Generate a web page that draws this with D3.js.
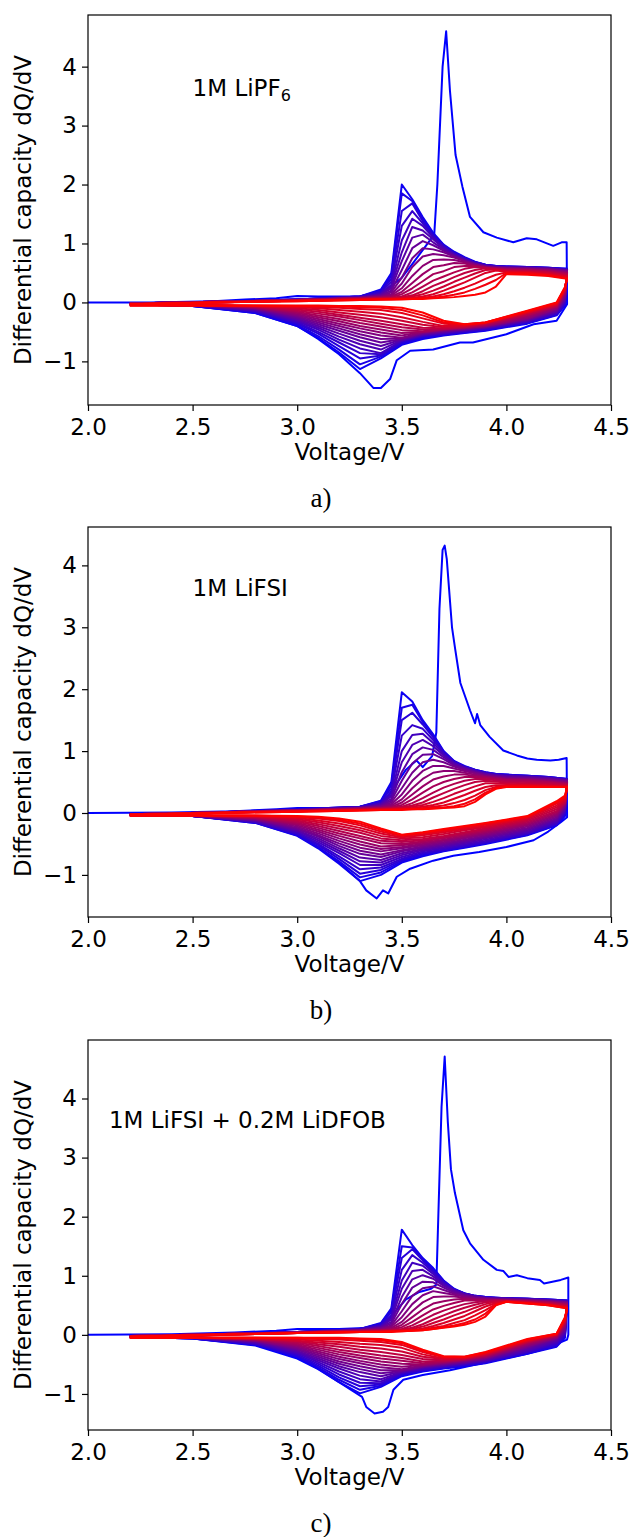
<!DOCTYPE html>
<html>
<head>
<meta charset="utf-8">
<script src="https://cdn.jsdelivr.net/npm/d3@7/dist/d3.min.js"></script>
<style>
	body { margin: 0; background: #fff; }
	svg text { font-family: "DejaVu Sans", sans-serif; fill: #000; }
	svg text.caption { font-family: "Liberation Serif", "DejaVu Serif", serif; }
</style>
</head>
<body>
<script>
// shared voltage grids (V) for the later cycles
var chargeVolts = [2.2, 2.6, 3.0, 3.3, 3.4, 3.45, 3.5, 3.55, 3.6, 3.65, 3.7, 3.75, 3.8, 3.85, 3.9, 3.95, 4.0, 4.1, 4.2, 4.29];
var dischargeVolts = [4.28, 4.24, 4.1, 3.9, 3.8, 3.7, 3.6, 3.5, 3.4, 3.3, 3.2, 3.1, 3.0, 2.8, 2.5, 2.2];

var xTickValues = [2.0, 2.5, 3.0, 3.5, 4.0, 4.5];
var yTickValues = [-1, 0, 1, 2, 3, 4];

// ---- a) 1M LiPF6 ----
var firstChargeA = [[2.0,0],[2.3,0.0],[2.6,0.02],[2.75,0.05],[2.9,0.07],[3.0,0.11],[3.1,0.1],[3.3,0.1],[3.4,0.15],[3.45,0.28],[3.5,0.42],[3.55,0.65],[3.655,1.15],[3.67,2.0],[3.695,4.0],[3.712,4.6],[3.73,3.6],[3.757,2.5],[3.79,1.96],[3.826,1.45],[3.89,1.19],[3.954,1.1],[4.033,1.02],[4.097,1.09],[4.145,1.07],[4.224,0.96],[4.264,1.02],[4.288,1.02]];
var firstDischargeA = [[4.29,-0.03],[4.24,-0.31],[4.13,-0.37],[4.0,-0.54],[3.84,-0.68],[3.778,-0.68],[3.65,-0.8],[3.54,-0.82],[3.476,-0.98],[3.444,-1.3],[3.4,-1.45],[3.364,-1.45],[3.3,-1.2],[3.2,-0.88],[3.1,-0.62],[3.0,-0.4],[2.8,-0.18],[2.5,-0.06],[2.2,-0.03]];
var chargeA = [
	[-0.02,0.01,0.05,0.1,0.22,0.5,2.0,1.75,1.45,1.18,0.98,0.86,0.77,0.69,0.64,0.62,0.61,0.6,0.59,0.57],
	[-0.02,0.01,0.05,0.1,0.2,0.45,1.85,1.72,1.42,1.16,0.97,0.85,0.76,0.68,0.64,0.62,0.61,0.6,0.59,0.57],
	[-0.02,0.01,0.05,0.1,0.19,0.4,1.55,1.68,1.38,1.14,0.96,0.84,0.75,0.68,0.64,0.62,0.61,0.6,0.59,0.56],
	[-0.02,0.01,0.05,0.1,0.17,0.35,1.3,1.55,1.34,1.12,0.95,0.83,0.75,0.67,0.63,0.61,0.6,0.6,0.58,0.56],
	[-0.02,0.01,0.05,0.09,0.15,0.3,1.05,1.42,1.3,1.1,0.93,0.82,0.74,0.67,0.63,0.61,0.6,0.59,0.58,0.55],
	[-0.02,0.01,0.05,0.09,0.14,0.27,0.85,1.28,1.22,1.07,0.92,0.81,0.73,0.66,0.62,0.6,0.6,0.59,0.58,0.55],
	[-0.02,0.01,0.04,0.08,0.13,0.24,0.7,1.1,1.15,1.02,0.9,0.8,0.72,0.66,0.62,0.6,0.59,0.58,0.57,0.54],
	[-0.02,0.01,0.04,0.08,0.12,0.2,0.55,0.92,1.04,0.97,0.88,0.79,0.71,0.65,0.61,0.6,0.59,0.58,0.57,0.54],
	[-0.02,0.01,0.04,0.08,0.11,0.17,0.42,0.75,0.92,0.9,0.85,0.78,0.7,0.65,0.61,0.59,0.58,0.57,0.56,0.53],
	[-0.02,0.01,0.04,0.08,0.1,0.14,0.32,0.6,0.78,0.82,0.8,0.76,0.7,0.64,0.6,0.59,0.58,0.57,0.56,0.52],
	[-0.02,0.01,0.04,0.07,0.09,0.12,0.24,0.45,0.62,0.72,0.73,0.72,0.68,0.63,0.6,0.58,0.57,0.56,0.55,0.51],
	[-0.02,0.01,0.04,0.07,0.09,0.1,0.18,0.33,0.48,0.6,0.63,0.67,0.66,0.62,0.59,0.58,0.57,0.56,0.54,0.5],
	[-0.02,0.01,0.04,0.07,0.08,0.09,0.14,0.24,0.36,0.48,0.53,0.6,0.62,0.62,0.59,0.57,0.56,0.55,0.53,0.49],
	[-0.03,0.0,0.03,0.06,0.07,0.08,0.1,0.17,0.27,0.37,0.44,0.51,0.57,0.6,0.59,0.57,0.55,0.54,0.52,0.48],
	[-0.03,0.0,0.03,0.06,0.07,0.07,0.09,0.12,0.19,0.28,0.35,0.43,0.5,0.55,0.58,0.56,0.54,0.53,0.51,0.46],
	[-0.03,0.0,0.03,0.05,0.06,0.07,0.08,0.1,0.14,0.2,0.27,0.35,0.42,0.49,0.55,0.56,0.53,0.52,0.5,0.45],
	[-0.03,0.0,0.03,0.05,0.06,0.06,0.07,0.08,0.1,0.14,0.2,0.27,0.34,0.42,0.5,0.54,0.52,0.51,0.48,0.44],
	[-0.03,0.0,0.03,0.05,0.05,0.06,0.06,0.07,0.08,0.1,0.14,0.19,0.25,0.32,0.4,0.47,0.51,0.5,0.47,0.42],
	[-0.03,0.0,0.02,0.04,0.05,0.05,0.06,0.06,0.07,0.08,0.1,0.13,0.17,0.23,0.3,0.38,0.5,0.49,0.46,0.41],
	[-0.03,0.0,0.02,0.04,0.05,0.05,0.05,0.06,0.06,0.07,0.08,0.09,0.11,0.13,0.17,0.27,0.48,0.47,0.45,0.4]
];
var dischargeA = [
	[-0.05,-0.22,-0.36,-0.48,-0.52,-0.56,-0.62,-0.72,-0.95,-1.13,-0.85,-0.6,-0.4,-0.18,-0.06,-0.03],
	[-0.04,-0.21,-0.35,-0.47,-0.51,-0.55,-0.6,-0.7,-0.92,-1.05,-0.8,-0.57,-0.38,-0.17,-0.06,-0.03],
	[-0.03,-0.2,-0.34,-0.46,-0.5,-0.54,-0.58,-0.68,-0.9,-0.95,-0.74,-0.53,-0.36,-0.16,-0.06,-0.03],
	[0.0,-0.19,-0.33,-0.45,-0.49,-0.53,-0.57,-0.66,-0.88,-0.86,-0.68,-0.5,-0.34,-0.15,-0.05,-0.03],
	[0.02,-0.18,-0.32,-0.44,-0.48,-0.52,-0.56,-0.65,-0.86,-0.78,-0.63,-0.46,-0.32,-0.14,-0.05,-0.03],
	[0.04,-0.16,-0.31,-0.43,-0.47,-0.51,-0.55,-0.64,-0.8,-0.71,-0.58,-0.43,-0.3,-0.13,-0.05,-0.03],
	[0.06,-0.15,-0.3,-0.42,-0.46,-0.5,-0.54,-0.63,-0.74,-0.65,-0.53,-0.4,-0.28,-0.12,-0.05,-0.03],
	[0.08,-0.14,-0.29,-0.42,-0.46,-0.49,-0.53,-0.62,-0.68,-0.59,-0.48,-0.37,-0.26,-0.11,-0.05,-0.03],
	[0.1,-0.12,-0.28,-0.41,-0.45,-0.48,-0.52,-0.61,-0.62,-0.54,-0.44,-0.34,-0.24,-0.1,-0.04,-0.03],
	[0.12,-0.11,-0.27,-0.4,-0.44,-0.47,-0.51,-0.6,-0.56,-0.49,-0.4,-0.31,-0.22,-0.1,-0.04,-0.03],
	[0.14,-0.1,-0.26,-0.4,-0.44,-0.46,-0.5,-0.56,-0.51,-0.44,-0.36,-0.28,-0.2,-0.09,-0.04,-0.03],
	[0.16,-0.08,-0.24,-0.39,-0.43,-0.46,-0.5,-0.52,-0.46,-0.4,-0.32,-0.25,-0.18,-0.08,-0.04,-0.03],
	[0.18,-0.07,-0.22,-0.38,-0.42,-0.45,-0.49,-0.47,-0.41,-0.35,-0.28,-0.22,-0.16,-0.08,-0.04,-0.03],
	[0.19,-0.06,-0.21,-0.37,-0.42,-0.45,-0.46,-0.42,-0.36,-0.3,-0.24,-0.19,-0.14,-0.07,-0.04,-0.04],
	[0.21,-0.05,-0.19,-0.36,-0.41,-0.44,-0.43,-0.37,-0.31,-0.26,-0.21,-0.16,-0.12,-0.07,-0.04,-0.04],
	[0.22,-0.04,-0.18,-0.35,-0.4,-0.42,-0.38,-0.31,-0.25,-0.21,-0.17,-0.13,-0.1,-0.06,-0.04,-0.04],
	[0.23,-0.03,-0.17,-0.35,-0.39,-0.4,-0.33,-0.25,-0.19,-0.16,-0.13,-0.1,-0.08,-0.06,-0.05,-0.04],
	[0.24,-0.02,-0.16,-0.34,-0.38,-0.36,-0.27,-0.18,-0.13,-0.11,-0.09,-0.08,-0.07,-0.06,-0.05,-0.05],
	[0.25,-0.01,-0.15,-0.34,-0.37,-0.34,-0.22,-0.13,-0.09,-0.08,-0.07,-0.06,-0.06,-0.05,-0.05,-0.05],
	[0.26,0.0,-0.14,-0.34,-0.37,-0.31,-0.17,-0.09,-0.07,-0.06,-0.06,-0.05,-0.05,-0.05,-0.05,-0.05]
];

// ---- b) 1M LiFSI ----
var firstChargeB = [[2.0,0],[2.4,0.01],[2.7,0.03],[2.9,0.06],[3.0,0.08],[3.2,0.08],[3.35,0.1],[3.42,0.2],[3.47,0.45],[3.52,0.7],[3.57,0.85],[3.6,0.74],[3.645,0.92],[3.665,1.3],[3.68,3.3],[3.695,4.25],[3.705,4.32],[3.715,4.1],[3.74,3.0],[3.755,2.65],[3.78,2.1],[3.826,1.66],[3.85,1.45],[3.86,1.6],[3.875,1.42],[3.92,1.23],[3.985,1.01],[4.05,0.93],[4.1,0.88],[4.145,0.86],[4.21,0.85],[4.25,0.86],[4.288,0.89]];
var firstDischargeB = [[4.29,-0.07],[4.26,-0.15],[4.2,-0.3],[4.13,-0.44],[4.0,-0.55],[3.87,-0.63],[3.746,-0.69],[3.65,-0.77],[3.54,-0.9],[3.476,-1.03],[3.435,-1.3],[3.41,-1.25],[3.38,-1.38],[3.33,-1.25],[3.3,-1.1],[3.2,-0.8],[3.1,-0.55],[3.0,-0.35],[2.8,-0.15],[2.5,-0.05],[2.2,-0.03]];
var chargeB = [
	[-0.02,0.01,0.06,0.1,0.2,0.5,1.95,1.8,1.5,1.27,1.0,0.84,0.76,0.7,0.66,0.63,0.62,0.6,0.58,0.55],
	[-0.02,0.01,0.06,0.1,0.19,0.45,1.7,1.75,1.47,1.25,0.99,0.83,0.75,0.7,0.66,0.63,0.62,0.6,0.58,0.55],
	[-0.02,0.01,0.06,0.1,0.18,0.4,1.5,1.62,1.43,1.22,0.98,0.83,0.75,0.69,0.65,0.63,0.61,0.6,0.58,0.55],
	[-0.02,0.01,0.05,0.1,0.16,0.35,1.25,1.42,1.36,1.18,0.97,0.82,0.74,0.69,0.65,0.62,0.61,0.59,0.57,0.54],
	[-0.02,0.01,0.05,0.09,0.15,0.3,1.0,1.26,1.28,1.13,0.95,0.81,0.74,0.68,0.64,0.62,0.6,0.59,0.57,0.54],
	[-0.02,0.01,0.05,0.09,0.14,0.27,0.82,1.1,1.18,1.08,0.93,0.8,0.73,0.68,0.64,0.61,0.6,0.58,0.56,0.53],
	[-0.02,0.01,0.05,0.08,0.13,0.23,0.66,0.95,1.06,1.02,0.9,0.79,0.72,0.67,0.63,0.6,0.59,0.58,0.56,0.53],
	[-0.02,0.01,0.05,0.08,0.12,0.2,0.52,0.8,0.94,0.95,0.87,0.77,0.71,0.66,0.62,0.6,0.58,0.57,0.55,0.52],
	[-0.02,0.01,0.04,0.08,0.11,0.17,0.4,0.65,0.82,0.86,0.82,0.75,0.7,0.65,0.61,0.59,0.57,0.56,0.54,0.51],
	[-0.02,0.01,0.04,0.08,0.1,0.14,0.3,0.52,0.68,0.76,0.76,0.72,0.68,0.64,0.6,0.58,0.56,0.55,0.53,0.5],
	[-0.02,0.01,0.04,0.07,0.09,0.12,0.22,0.4,0.55,0.65,0.68,0.68,0.65,0.62,0.59,0.57,0.55,0.54,0.52,0.49],
	[-0.02,0.01,0.04,0.07,0.08,0.1,0.17,0.3,0.43,0.54,0.59,0.62,0.62,0.6,0.58,0.56,0.54,0.53,0.51,0.48],
	[-0.02,0.01,0.04,0.07,0.08,0.09,0.13,0.22,0.33,0.43,0.5,0.55,0.58,0.58,0.57,0.55,0.53,0.52,0.5,0.47],
	[-0.03,0.0,0.03,0.06,0.07,0.08,0.1,0.16,0.24,0.33,0.41,0.47,0.52,0.55,0.55,0.53,0.51,0.5,0.49,0.46],
	[-0.03,0.0,0.03,0.06,0.07,0.07,0.09,0.12,0.17,0.25,0.32,0.39,0.45,0.5,0.52,0.51,0.49,0.48,0.47,0.45],
	[-0.03,0.0,0.03,0.05,0.06,0.07,0.08,0.1,0.13,0.18,0.24,0.31,0.37,0.43,0.48,0.48,0.47,0.46,0.45,0.44],
	[-0.03,0.0,0.03,0.05,0.06,0.06,0.07,0.08,0.1,0.13,0.17,0.23,0.29,0.36,0.42,0.45,0.45,0.45,0.44,0.43],
	[-0.03,0.0,0.03,0.05,0.05,0.06,0.06,0.07,0.08,0.1,0.12,0.16,0.21,0.28,0.37,0.42,0.44,0.44,0.43,0.42],
	[-0.03,0.0,0.02,0.04,0.05,0.05,0.06,0.06,0.07,0.08,0.09,0.11,0.15,0.22,0.33,0.4,0.43,0.43,0.42,0.42],
	[-0.03,0.0,0.02,0.04,0.05,0.05,0.05,0.06,0.06,0.07,0.08,0.09,0.11,0.18,0.3,0.39,0.42,0.42,0.42,0.42]
];
var dischargeB = [
	[-0.05,-0.2,-0.36,-0.5,-0.56,-0.62,-0.7,-0.8,-1.0,-1.1,-0.82,-0.57,-0.37,-0.16,-0.05,-0.03],
	[-0.03,-0.19,-0.35,-0.49,-0.55,-0.61,-0.68,-0.78,-0.96,-1.04,-0.78,-0.55,-0.36,-0.16,-0.05,-0.03],
	[-0.01,-0.18,-0.34,-0.48,-0.54,-0.6,-0.66,-0.76,-0.92,-0.98,-0.74,-0.52,-0.34,-0.15,-0.05,-0.03],
	[0.01,-0.17,-0.33,-0.47,-0.53,-0.59,-0.64,-0.74,-0.88,-0.91,-0.7,-0.5,-0.33,-0.15,-0.05,-0.03],
	[0.03,-0.15,-0.32,-0.45,-0.51,-0.57,-0.62,-0.71,-0.84,-0.84,-0.65,-0.47,-0.31,-0.14,-0.05,-0.03],
	[0.05,-0.13,-0.3,-0.43,-0.49,-0.55,-0.6,-0.68,-0.8,-0.78,-0.61,-0.44,-0.29,-0.13,-0.05,-0.03],
	[0.07,-0.11,-0.28,-0.41,-0.47,-0.53,-0.58,-0.65,-0.76,-0.72,-0.57,-0.41,-0.28,-0.12,-0.05,-0.03],
	[0.09,-0.09,-0.26,-0.39,-0.45,-0.51,-0.56,-0.62,-0.71,-0.66,-0.53,-0.38,-0.26,-0.11,-0.05,-0.03],
	[0.11,-0.07,-0.24,-0.37,-0.43,-0.49,-0.54,-0.6,-0.67,-0.61,-0.49,-0.36,-0.24,-0.11,-0.05,-0.03],
	[0.12,-0.05,-0.22,-0.35,-0.41,-0.47,-0.52,-0.57,-0.62,-0.56,-0.45,-0.33,-0.22,-0.1,-0.04,-0.03],
	[0.14,-0.03,-0.2,-0.33,-0.39,-0.45,-0.5,-0.55,-0.58,-0.51,-0.41,-0.3,-0.2,-0.09,-0.04,-0.03],
	[0.15,-0.01,-0.18,-0.31,-0.37,-0.43,-0.48,-0.52,-0.54,-0.46,-0.37,-0.27,-0.18,-0.08,-0.04,-0.03],
	[0.16,0.01,-0.16,-0.29,-0.35,-0.41,-0.46,-0.5,-0.49,-0.41,-0.33,-0.24,-0.16,-0.08,-0.04,-0.04],
	[0.17,0.03,-0.14,-0.27,-0.33,-0.39,-0.44,-0.47,-0.45,-0.37,-0.29,-0.21,-0.14,-0.07,-0.04,-0.04],
	[0.18,0.06,-0.12,-0.25,-0.31,-0.37,-0.42,-0.44,-0.41,-0.32,-0.25,-0.18,-0.12,-0.06,-0.04,-0.04],
	[0.2,0.09,-0.1,-0.23,-0.28,-0.34,-0.39,-0.41,-0.37,-0.28,-0.21,-0.15,-0.1,-0.06,-0.04,-0.04],
	[0.22,0.12,-0.08,-0.21,-0.26,-0.31,-0.36,-0.39,-0.33,-0.24,-0.17,-0.12,-0.08,-0.05,-0.04,-0.04],
	[0.24,0.15,-0.07,-0.19,-0.24,-0.29,-0.34,-0.37,-0.3,-0.2,-0.13,-0.09,-0.07,-0.05,-0.04,-0.04],
	[0.26,0.17,-0.06,-0.17,-0.22,-0.27,-0.32,-0.36,-0.27,-0.17,-0.11,-0.07,-0.06,-0.04,-0.04,-0.04],
	[0.28,0.19,-0.05,-0.16,-0.21,-0.26,-0.31,-0.35,-0.25,-0.14,-0.09,-0.06,-0.05,-0.04,-0.04,-0.04]
];

// ---- c) 1M LiFSI + 0.2M LiDFOB ----
var firstChargeC = [[2.0,0],[2.4,0.01],[2.7,0.04],[2.9,0.07],[3.0,0.1],[3.2,0.1],[3.35,0.12],[3.42,0.2],[3.47,0.4],[3.52,0.6],[3.58,0.72],[3.64,0.78],[3.665,0.85],[3.675,2.06],[3.69,3.86],[3.705,4.71],[3.72,3.6],[3.735,2.8],[3.754,2.4],[3.794,1.77],[3.826,1.55],[3.89,1.27],[3.954,1.1],[3.986,1.08],[4.01,0.98],[4.05,1.01],[4.1,0.96],[4.16,0.93],[4.18,0.87],[4.26,0.93],[4.296,0.97]];
var firstDischargeC = [[4.296,0.0],[4.29,-0.08],[4.256,-0.13],[4.2,-0.22],[4.1,-0.32],[3.92,-0.45],[3.73,-0.6],[3.6,-0.68],[3.507,-0.76],[3.46,-0.93],[3.435,-1.22],[3.41,-1.3],[3.37,-1.33],[3.33,-1.22],[3.31,-1.05],[3.2,-0.8],[3.1,-0.58],[3.0,-0.4],[2.8,-0.18],[2.5,-0.06],[2.2,-0.03]];
var chargeC = [
	[-0.02,0.01,0.05,0.1,0.2,0.45,1.78,1.52,1.3,1.13,0.92,0.78,0.7,0.66,0.64,0.63,0.62,0.61,0.6,0.58],
	[-0.02,0.01,0.05,0.1,0.19,0.42,1.5,1.48,1.28,1.11,0.91,0.77,0.7,0.66,0.64,0.63,0.62,0.61,0.6,0.58],
	[-0.02,0.01,0.05,0.1,0.18,0.38,1.3,1.45,1.26,1.09,0.9,0.77,0.7,0.66,0.64,0.63,0.62,0.61,0.6,0.58],
	[-0.02,0.01,0.05,0.1,0.16,0.33,1.1,1.35,1.22,1.06,0.89,0.76,0.7,0.66,0.63,0.62,0.62,0.61,0.59,0.57],
	[-0.02,0.01,0.05,0.09,0.15,0.29,0.92,1.22,1.17,1.03,0.87,0.76,0.69,0.65,0.63,0.62,0.61,0.6,0.59,0.57],
	[-0.02,0.01,0.05,0.09,0.14,0.26,0.78,1.08,1.1,0.99,0.85,0.75,0.69,0.65,0.63,0.62,0.61,0.6,0.59,0.56],
	[-0.02,0.01,0.04,0.08,0.13,0.22,0.64,0.94,1.01,0.95,0.83,0.74,0.68,0.65,0.62,0.61,0.61,0.6,0.58,0.56],
	[-0.02,0.01,0.04,0.08,0.12,0.19,0.52,0.8,0.9,0.89,0.8,0.72,0.67,0.64,0.62,0.61,0.6,0.59,0.58,0.55],
	[-0.02,0.01,0.04,0.08,0.11,0.16,0.4,0.66,0.79,0.82,0.76,0.7,0.66,0.63,0.61,0.6,0.6,0.59,0.57,0.55],
	[-0.02,0.01,0.04,0.08,0.1,0.14,0.3,0.52,0.67,0.74,0.71,0.68,0.65,0.62,0.61,0.6,0.59,0.58,0.57,0.54],
	[-0.02,0.01,0.04,0.07,0.09,0.12,0.22,0.4,0.55,0.64,0.65,0.65,0.63,0.61,0.6,0.59,0.59,0.58,0.56,0.53],
	[-0.02,0.01,0.04,0.07,0.08,0.1,0.17,0.3,0.43,0.53,0.57,0.6,0.61,0.6,0.59,0.59,0.58,0.57,0.55,0.52],
	[-0.02,0.01,0.04,0.07,0.08,0.09,0.13,0.22,0.33,0.43,0.49,0.54,0.58,0.58,0.58,0.58,0.58,0.57,0.55,0.51],
	[-0.03,0.0,0.03,0.06,0.07,0.08,0.1,0.16,0.25,0.34,0.41,0.47,0.52,0.55,0.57,0.58,0.57,0.56,0.54,0.5],
	[-0.03,0.0,0.03,0.06,0.07,0.07,0.09,0.12,0.18,0.26,0.33,0.4,0.46,0.51,0.55,0.57,0.57,0.56,0.53,0.49],
	[-0.03,0.0,0.03,0.05,0.06,0.07,0.08,0.1,0.14,0.2,0.26,0.33,0.39,0.46,0.52,0.56,0.57,0.55,0.52,0.48],
	[-0.03,0.0,0.03,0.05,0.06,0.06,0.07,0.08,0.11,0.15,0.2,0.26,0.32,0.4,0.48,0.54,0.56,0.54,0.51,0.47],
	[-0.03,0.0,0.03,0.05,0.05,0.06,0.07,0.08,0.09,0.12,0.15,0.2,0.25,0.33,0.42,0.52,0.56,0.54,0.51,0.46],
	[-0.03,0.0,0.03,0.05,0.05,0.06,0.06,0.07,0.08,0.1,0.13,0.16,0.2,0.26,0.36,0.51,0.56,0.53,0.5,0.45],
	[-0.03,0.0,0.03,0.05,0.05,0.05,0.06,0.07,0.08,0.1,0.12,0.14,0.17,0.22,0.31,0.5,0.56,0.53,0.5,0.45]
];
var dischargeC = [
	[-0.05,-0.2,-0.32,-0.48,-0.53,-0.57,-0.62,-0.7,-0.88,-0.99,-0.8,-0.57,-0.38,-0.17,-0.06,-0.03],
	[-0.03,-0.19,-0.31,-0.47,-0.52,-0.56,-0.61,-0.68,-0.86,-0.93,-0.76,-0.55,-0.37,-0.16,-0.06,-0.03],
	[-0.01,-0.17,-0.3,-0.46,-0.51,-0.55,-0.6,-0.67,-0.84,-0.87,-0.72,-0.52,-0.35,-0.16,-0.06,-0.03],
	[0.01,-0.15,-0.29,-0.45,-0.5,-0.54,-0.59,-0.65,-0.82,-0.81,-0.67,-0.49,-0.33,-0.15,-0.05,-0.03],
	[0.03,-0.13,-0.28,-0.44,-0.49,-0.53,-0.58,-0.64,-0.79,-0.75,-0.62,-0.46,-0.31,-0.14,-0.05,-0.03],
	[0.05,-0.11,-0.26,-0.43,-0.48,-0.52,-0.56,-0.63,-0.75,-0.69,-0.57,-0.43,-0.29,-0.13,-0.05,-0.03],
	[0.07,-0.09,-0.24,-0.42,-0.47,-0.51,-0.55,-0.62,-0.7,-0.63,-0.53,-0.4,-0.27,-0.12,-0.05,-0.03],
	[0.09,-0.07,-0.22,-0.41,-0.46,-0.5,-0.54,-0.61,-0.65,-0.58,-0.49,-0.37,-0.25,-0.11,-0.05,-0.03],
	[0.11,-0.06,-0.2,-0.4,-0.45,-0.49,-0.53,-0.6,-0.6,-0.53,-0.45,-0.34,-0.23,-0.1,-0.05,-0.03],
	[0.13,-0.05,-0.19,-0.39,-0.44,-0.48,-0.52,-0.58,-0.55,-0.48,-0.41,-0.31,-0.21,-0.1,-0.04,-0.03],
	[0.15,-0.04,-0.17,-0.38,-0.43,-0.47,-0.51,-0.54,-0.5,-0.44,-0.37,-0.28,-0.19,-0.09,-0.04,-0.03],
	[0.17,-0.03,-0.16,-0.37,-0.42,-0.46,-0.5,-0.49,-0.45,-0.39,-0.33,-0.25,-0.17,-0.08,-0.04,-0.03],
	[0.19,-0.02,-0.14,-0.36,-0.42,-0.45,-0.48,-0.44,-0.4,-0.35,-0.29,-0.22,-0.15,-0.08,-0.04,-0.04],
	[0.21,-0.01,-0.13,-0.35,-0.41,-0.44,-0.45,-0.39,-0.35,-0.3,-0.25,-0.19,-0.13,-0.07,-0.04,-0.04],
	[0.22,0.0,-0.12,-0.34,-0.4,-0.43,-0.41,-0.34,-0.29,-0.25,-0.2,-0.16,-0.11,-0.07,-0.04,-0.04],
	[0.24,0.0,-0.11,-0.33,-0.4,-0.41,-0.37,-0.28,-0.23,-0.2,-0.16,-0.13,-0.1,-0.06,-0.05,-0.04],
	[0.25,0.01,-0.1,-0.32,-0.39,-0.4,-0.33,-0.22,-0.17,-0.15,-0.12,-0.1,-0.08,-0.06,-0.05,-0.05],
	[0.27,0.01,-0.09,-0.31,-0.38,-0.38,-0.29,-0.17,-0.12,-0.1,-0.08,-0.07,-0.06,-0.05,-0.05,-0.05],
	[0.28,0.02,-0.08,-0.3,-0.37,-0.37,-0.27,-0.14,-0.09,-0.07,-0.06,-0.06,-0.05,-0.05,-0.05,-0.05],
	[0.3,0.02,-0.07,-0.29,-0.37,-0.36,-0.25,-0.12,-0.07,-0.06,-0.05,-0.05,-0.05,-0.05,-0.05,-0.05]
];

var panelLabels = ['1M LiPF', '1M LiFSI', '1M LiFSI + 0.2M LiDFOB'];
var panelLabelSubs = ['6', '', ''];
var panelLabelAt = [[2.5, 3.5], [2.5, 3.5], [2.1, 3.5]];
var captions = ['a)', 'b)', 'c)'];
var yLimits = [[-1.74, 4.876], [-1.68, 4.62], [-1.61, 4.99]];

function DqdvPanel(svg, index) {
	this.svg = svg;
	this.index = index;
	this.chart = {};

	// layout of one panel, in page pixels
	this.props = {};
	this.props.left = 88;
	this.props.top = [15, 527, 1040][index];
	this.props.width = 523;
	this.props.height = 390;
	this.props.fontSize = 23;
}

DqdvPanel.prototype.createChart = function() {
	this.chart.g = this.svg.append('g')
		.attr('transform', 'translate(' + this.props.left + ',' + this.props.top + ')');
	this.chart.x = d3.scaleLinear().domain([2.0, 4.5]).range([0, this.props.width]);
	this.chart.y = d3.scaleLinear().domain(yLimits[this.index]).range([this.props.height, 0]);
	return this.chart;
}

DqdvPanel.prototype.addCurves = function(first, charge, discharge) {
	var x = this.chart.x, y = this.chart.y;
	var line = d3.line()
		.x(function(d) { return x(d[0]); })
		.y(function(d) { return y(d[1]); });

	var cycles = [first];
	charge.forEach(function(row, i) {
		var pts = chargeVolts.map(function(v, k) { return [v, row[k]]; });
		var back = dischargeVolts.map(function(v, k) { return [v, discharge[i][k]]; });
		cycles.push(pts.concat(back));
	});

	var colour = d3.interpolateRgb('#0000ff', '#ff0000');
	var n = cycles.length;
	this.chart.g.append('g')
		.selectAll('path')
		.data(cycles)
		.join('path')
			.attr('d', line)
			.attr('fill', 'none')
			.attr('stroke', function(d, i) { return colour(i / (n - 1)); })
			.attr('stroke-width', 2)
			.attr('stroke-linejoin', 'round')
			.attr('stroke-linecap', 'butt');
}

DqdvPanel.prototype.addAxes = function() {
	var fs = this.props.fontSize;
	var xAxis = d3.axisBottom(this.chart.x)
		.tickValues(xTickValues)
		.tickFormat(d3.format('.1f'))
		.tickSize(6)
		.tickPadding(8);
	var yAxis = d3.axisLeft(this.chart.y)
		.tickValues(yTickValues)
		.tickFormat(d3.format('d'))
		.tickSize(6)
		.tickPadding(5);

	var gx = this.chart.g.append('g')
		.attr('class', 'x axis')
		.attr('transform', 'translate(0,' + this.props.height + ')')
		.call(xAxis);
	var gy = this.chart.g.append('g')
		.attr('class', 'y axis')
		.call(yAxis);

	[gx, gy].forEach(function(a) {
		a.attr('font-size', fs).attr('font-family', '"DejaVu Sans", sans-serif');
		a.select('.domain').remove();
		a.selectAll('.tick line').attr('stroke', '#000').attr('stroke-width', 1.2);
	});

	this.chart.g.append('rect')
		.attr('width', this.props.width)
		.attr('height', this.props.height)
		.attr('fill', 'none')
		.attr('stroke', '#000')
		.attr('stroke-width', 1.2);

	this.chart.g.append('text')
		.attr('x', this.props.width / 2)
		.attr('y', this.props.height + 55)
		.attr('text-anchor', 'middle')
		.style('font-size', fs + 'px')
		.text('Voltage/V');

	this.chart.g.append('text')
		.attr('transform', 'translate(' + (31 - this.props.left) + ',' + (this.props.height / 2) + ') rotate(-90)')
		.attr('text-anchor', 'middle')
		.style('font-size', fs + 'px')
		.text('Differential capacity dQ/dV');
}

DqdvPanel.prototype.addLabels = function() {
	var at = panelLabelAt[this.index];
	var t = this.chart.g.append('text')
		.attr('x', this.chart.x(at[0]))
		.attr('y', this.chart.y(at[1]))
		.style('font-size', this.props.fontSize + 'px')
		.text(panelLabels[this.index]);
	if (panelLabelSubs[this.index]) {
		t.append('tspan')
			.attr('dy', 5)
			.style('font-size', '16px')
			.text(panelLabelSubs[this.index]);
	}

	this.svg.append('text')
		.attr('class', 'caption')
		.attr('x', 321)
		.attr('y', this.props.top + this.props.height + 102)
		.attr('text-anchor', 'middle')
		.style('font-size', '27px')
		.text(captions[this.index]);
}

var svg = d3.select('body').append('svg')
	.attr('width', 632)
	.attr('height', 1537);

var series = [
	[firstChargeA.concat(firstDischargeA), chargeA, dischargeA],
	[firstChargeB.concat(firstDischargeB), chargeB, dischargeB],
	[firstChargeC.concat(firstDischargeC), chargeC, dischargeC]
];

series.forEach(function(s, i) {
	var panel = new DqdvPanel(svg, i);
	panel.createChart();
	panel.addCurves(s[0], s[1], s[2]);
	panel.addAxes();
	panel.addLabels();
});
</script>
</body>
</html>
